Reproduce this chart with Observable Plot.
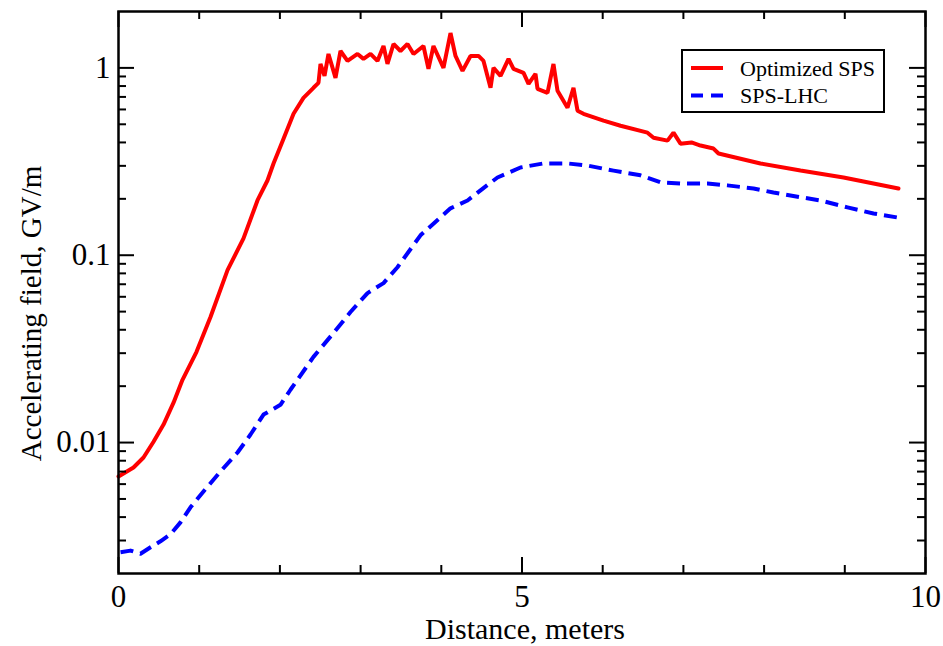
<!DOCTYPE html>
<html><head><meta charset="utf-8">
<script src="https://cdn.jsdelivr.net/npm/d3@7"></script>
<script src="https://cdn.jsdelivr.net/npm/@observablehq/plot@0.6"></script>
<style>
html,body{margin:0;padding:0;background:#fff;}
#wrap{position:relative;width:943px;height:646px;font-family:"Liberation Serif","Times New Roman",serif;}
</style></head><body><div id="wrap"></div>
<script>
// Optimized SPS (red, solid)
const optX = [0,0.186,0.31,0.434,0.558,0.682,0.793,0.967,1.14,1.351,1.549,1.722,1.846,1.921,2.045,2.169,2.292,2.416,2.478,2.503,2.553,2.602,2.689,2.751,2.838,2.962,3.036,3.123,3.209,3.284,3.333,3.408,3.494,3.581,3.656,3.779,3.841,3.903,4.027,4.114,4.176,4.263,4.362,4.461,4.523,4.61,4.647,4.734,4.833,4.895,5.019,5.081,5.167,5.192,5.316,5.39,5.44,5.564,5.638,5.688,5.762,6.01,6.221,6.555,6.63,6.803,6.877,6.964,7.1,7.212,7.373,7.435,7.955,8.451,8.984,9.665];
const optY = [0.00659,0.00736,0.00832,0.0101,0.01247,0.01633,0.02163,0.0305,0.0468,0.0832,0.123,0.196,0.2506,0.3086,0.419,0.569,0.692,0.783,0.832,1.05,0.906,1.187,0.885,1.231,1.089,1.187,1.117,1.187,1.089,1.309,1.05,1.342,1.231,1.342,1.187,1.309,0.988,1.309,1.0,1.535,1.158,0.964,1.158,1.158,1.089,0.783,1.0,0.906,1.117,0.988,0.94,0.822,0.929,0.773,0.736,1.05,0.755,0.613,0.783,0.591,0.569,0.523,0.491,0.451,0.424,0.409,0.451,0.394,0.40,0.385,0.371,0.349,0.309,0.283,0.26,0.227];
// SPS-LHC (blue, dashed)
const lhcX = [0.025,0.149,0.273,0.397,0.52,0.644,0.768,0.892,1.053,1.264,1.475,1.636,1.797,2.007,2.131,2.218,2.416,2.664,2.875,3.086,3.284,3.457,3.742,4.114,4.325,4.486,4.696,4.981,5.266,5.564,5.812,6.134,6.468,6.716,6.964,7.299,7.546,7.869,8.116,8.451,8.699,9.033,9.356,9.653];
const lhcY = [0.0026,0.00265,0.00255,0.00276,0.00297,0.00324,0.00375,0.00451,0.00548,0.00701,0.00885,0.01104,0.0141,0.0159,0.01914,0.02163,0.02867,0.03846,0.04977,0.0628,0.071,0.0863,0.1277,0.178,0.196,0.222,0.26,0.294,0.309,0.309,0.301,0.283,0.267,0.245,0.2415,0.2415,0.236,0.227,0.216,0.204,0.196,0.18,0.167,0.159];

const seriesNames = ["Optimized SPS", "SPS-LHC"];
const seriesColors = ["#ff0000", "#0000ff"];
const xTicks = [0, 5, 10];
const xMinor = [1, 2, 3, 4, 6, 7, 8, 9];
const yTicks = [0.01, 0.1, 1];
const yMinor = [0.003,0.004,0.005,0.006,0.007,0.008,0.009,0.02,0.03,0.04,0.05,0.06,0.07,0.08,0.09,0.2,0.3,0.4,0.5,0.6,0.7,0.8,0.9];
const xLabel = "Distance, meters";
const yLabel = "Accelerating field, GV/m";

const opt = optX.map((x, i) => ({x, y: optY[i]}));
const lhc = lhcX.map((x, i) => ({x, y: lhcY[i]}));

const W = 943, H = 646, mL = 118, mR = 18, mT = 11, mB = 73;
const iw = W - mL - mR, ih = H - mT - mB;
const font = '"Liberation Serif","Times New Roman",serif';
const tk = {stroke: "#000", strokeWidth: 2};

const chart = Plot.plot({
  width: W, height: H,
  marginLeft: mL, marginRight: mR, marginTop: mT, marginBottom: mB,
  style: {fontFamily: font, background: "#fff", color: "#000", overflow: "visible"},
  x: {domain: [0, 10]},
  y: {type: "log", domain: [0.002, 2]},
  marks: [
    Plot.line(lhc, {x: "x", y: "y", stroke: seriesColors[1], strokeWidth: 4, strokeDasharray: "13,7", strokeLinecap: "butt"}),
    Plot.line(opt, {x: "x", y: "y", stroke: seriesColors[0], strokeWidth: 4, strokeLinejoin: "miter"}),
    Plot.ruleX(xTicks, {...tk, insetTop: ih - 16}),
    Plot.ruleX(xTicks, {...tk, insetBottom: ih - 16}),
    Plot.ruleX(xMinor, {...tk, insetTop: ih - 8}),
    Plot.ruleX(xMinor, {...tk, insetBottom: ih - 8}),
    Plot.ruleY(yTicks, {...tk, insetRight: iw - 16}),
    Plot.ruleY(yTicks, {...tk, insetLeft: iw - 16}),
    Plot.ruleY(yMinor, {...tk, insetRight: iw - 8}),
    Plot.ruleY(yMinor, {...tk, insetLeft: iw - 8}),
    Plot.axisX(xTicks, {tickSize: 0, tickPadding: 11, fontSize: 31, tickFormat: d => String(d), label: null}),
    Plot.axisY(yTicks, {tickSize: 0, tickPadding: 8, fontSize: 31, tickFormat: d => String(d), label: null}),
    Plot.frame({stroke: "#000", strokeWidth: 2.5}),
    Plot.text([xLabel], {frameAnchor: "bottom", dy: 65, dx: 3, lineAnchor: "bottom", textAnchor: "middle", fontSize: 30, fill: "#000"}),
    Plot.text([yLabel], {frameAnchor: "left", rotate: -90, dx: -78, dy: 21, lineAnchor: "bottom", textAnchor: "middle", fontSize: 29, fill: "#000"})
  ]
});
const wrap = document.getElementById("wrap");
wrap.appendChild(chart);

// legend (inside plot, upper right)
const leg = d3.select(wrap).append("svg")
  .attr("width", W).attr("height", H)
  .style("position", "absolute").style("left", "0px").style("top", "0px")
  .style("font-family", font);
leg.append("rect").attr("x", 682).attr("y", 50).attr("width", 202).attr("height", 62)
  .attr("fill", "#fff").attr("stroke", "#000").attr("stroke-width", 2);
seriesNames.forEach((name, i) => {
  const cy = 68 + i * 27.5;
  leg.append("line").attr("x1", 691).attr("x2", 723).attr("y1", cy).attr("y2", cy)
    .attr("stroke", seriesColors[i]).attr("stroke-width", 4)
    .attr("stroke-dasharray", i === 1 ? "12,8" : null);
  leg.append("text").attr("x", 740).attr("y", cy + 7.5).attr("font-size", 22)
    .attr("fill", "#000").text(name);
});
</script></body></html>
